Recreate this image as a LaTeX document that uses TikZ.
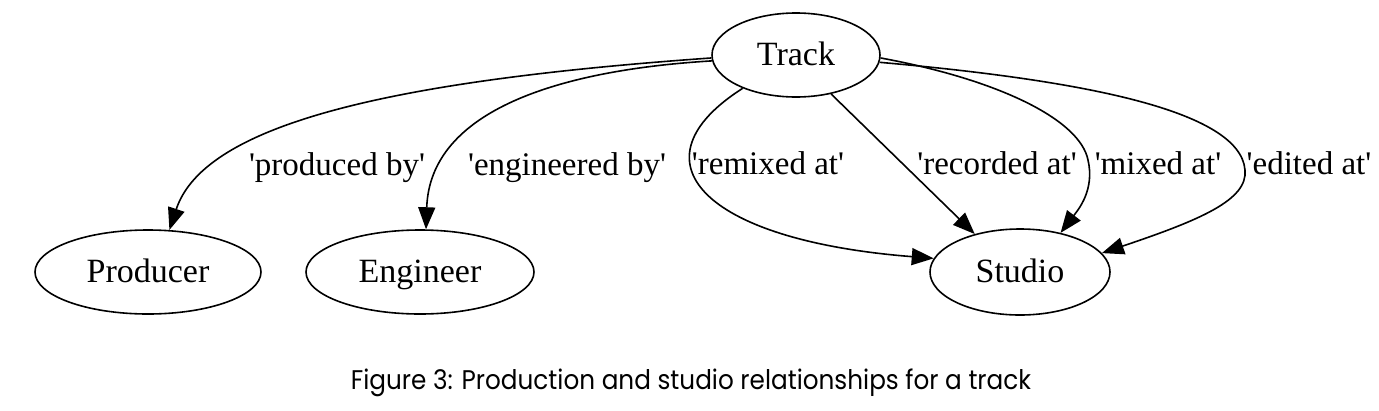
\documentclass[tikz,border=0pt]{standalone}
\usepackage{fontspec}
\setmainfont{Liberation Serif}
\newfontfamily\capfont{Poppins}
\usetikzlibrary{arrows.meta,shapes.geometric}
\newcommand{\sq}{\textquotesingle}
\begin{document}
\begin{tikzpicture}[x=1pt,y=-1pt,
  ent/.style={ellipse,draw,line width=1.6pt,inner sep=0pt,text height=24pt,text depth=3pt,font=\fontsize{34}{40}\selectfont},
  rel/.style={line width=1.6pt,-{Triangle[length=22pt,width=17pt]}},
  lbl/.style={font=\fontsize{33}{40}\selectfont,inner sep=0pt,anchor=base}]
\path[use as bounding box,fill=white] (0,0) rectangle (1379,410);
\node[ent,minimum width=168pt,minimum height=84pt] (track) at (796,55) {Track};
\node[ent,minimum width=226pt,minimum height=84pt] (producer) at (148,272) {Producer};
\node[ent,minimum width=228pt,minimum height=84pt] (engineer) at (420,272) {Engineer};
\node[ent,minimum width=180pt,minimum height=86pt] (studio) at (1020,272) {Studio};
% edges
\draw[rel] (track.182) .. controls (400,80) and (205,122) .. (producer.63);
\draw[rel] (track.184) .. controls (560,70) and (430,110) .. (engineer.82);
\draw[rel] (track.212) .. controls (630,160) and (700,240) .. (studio.171);
\draw[rel] (track.312) -- (studio.140);
\coordinate (mixmid) at (1088,160);
\coordinate (editmid) at (1245,170);
\draw[rel] (track.358) .. controls (1000,80) and (1080,120) .. (mixmid) .. controls (1095,190) and (1078,210) .. (studio.44);
\draw[rel] (track.355) .. controls (1080,80) and (1240,110) .. (editmid) .. controls (1248,200) and (1200,220) .. (studio.13);
% labels
\node[lbl] (lprod) at (337,175) {\sq produced by\sq};
\node[lbl] (leng) at (567,175) {\sq engineered by\sq};
\node[lbl] (lremix) at (768,174) {\sq remixed at\sq};
\node[lbl] (lrec) at (997,174) {\sq recorded at\sq};
\node[lbl] (lmix) at (1158,174) {\sq mixed at\sq};
\node[lbl] (ledit) at (1309,174) {\sq edited at\sq};
% caption
\node[font=\capfont\fontsize{27}{32}\selectfont,inner sep=0pt,anchor=base] (caption) at (691,389) {\scalebox{0.915}[1]{Figure 3: Production and studio relationships for a track}};
\end{tikzpicture}
\end{document}
